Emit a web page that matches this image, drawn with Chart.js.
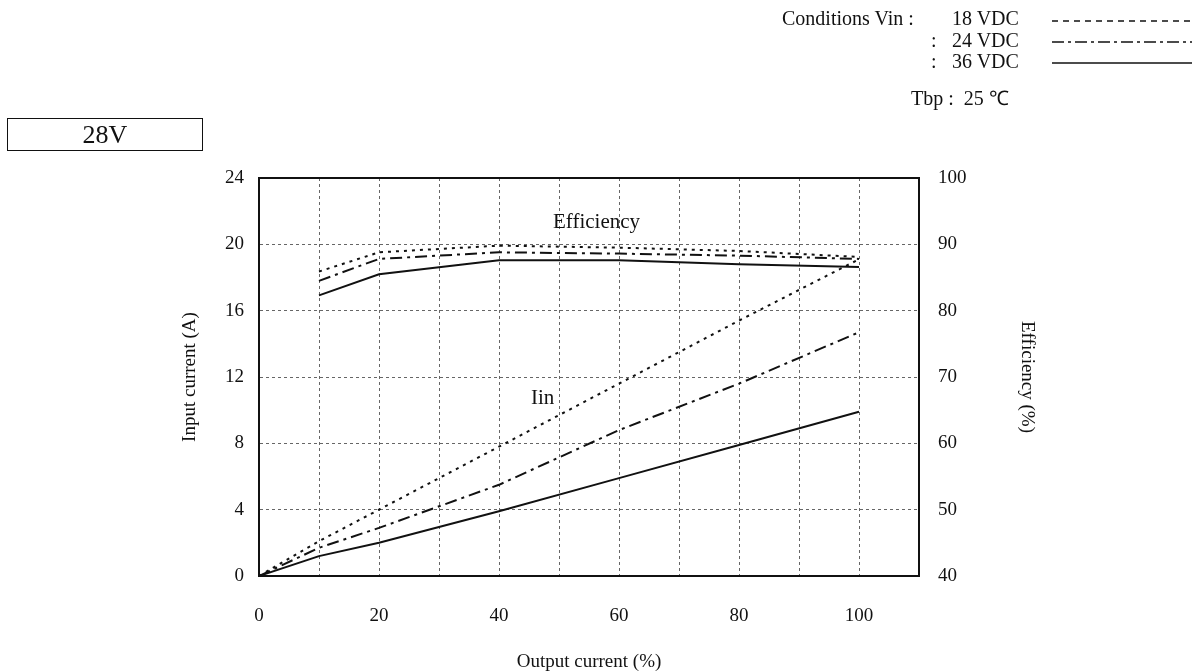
<!DOCTYPE html>
<html>
<head>
<meta charset="utf-8">
<script src="https://cdn.jsdelivr.net/npm/chart.js@4.4.0/dist/chart.umd.min.js"></script>
<style>
  body { margin: 0; background: #fff; }
  #wrap { position: relative; width: 1194px; height: 672px; font-family: "Liberation Serif", "Times New Roman", serif; color: #111; }
  #wrap canvas { position: absolute; left: 0; top: 0; }
  .t { position: absolute; font-size: 20px; line-height: 1; white-space: pre; }
  .box { position: absolute; left: 7px; top: 118px; width: 194px; height: 31px; border: 1.5px solid #111; font-size: 26px; line-height: 31px; text-align: center; }
  svg { position: absolute; left: 0; top: 0; }
</style>
</head>
<body>
<div id="wrap">
  <canvas id="effChart" width="1194" height="672"></canvas>
  <div class="t" style="left:782px;top:8px;">Conditions Vin :</div>
  <div class="t" style="left:952px;top:8px;">18 VDC</div>
  <div class="t" style="left:931px;top:30px;">:</div>
  <div class="t" style="left:952px;top:30px;">24 VDC</div>
  <div class="t" style="left:931px;top:51px;">:</div>
  <div class="t" style="left:952px;top:51px;">36 VDC</div>
  <div class="t" style="left:911px;top:88px;">Tbp :  25 ℃</div>
  <div class="box">28V</div>
  <div class="t" style="left:553px;top:211px;font-size:21px;">Efficiency</div>
  <div class="t" style="left:531px;top:387px;font-size:21px;">Iin</div>
  <svg width="1194" height="120">
    <line x1="1052" y1="21" x2="1192" y2="21" stroke="#111" stroke-width="1.5" stroke-dasharray="6,5"/>
    <line x1="1052" y1="42" x2="1192" y2="42" stroke="#111" stroke-width="1.5" stroke-dasharray="12,4,3,4"/>
    <line x1="1052" y1="63" x2="1192" y2="63" stroke="#111" stroke-width="1.5"/>
  </svg>
</div>
<script>
/* ===============================
   DATA
   =============================== */
const iinLoad = [0, 10, 20, 40, 60, 80, 100];
const iin18 = [0, 2.1, 4.0, 7.8, 11.6, 15.4, 19.1];
const iin24 = [0, 1.7, 2.9, 5.5, 8.8, 11.6, 14.7];
const iin36 = [0, 1.2, 2.0, 3.9, 5.9, 7.9, 9.9];

const effLoad = [10, 20, 40, 60, 80, 100];
const eff18 = [85.9, 88.8, 89.8, 89.5, 89.0, 88.1];
const eff24 = [84.5, 87.8, 88.8, 88.6, 88.3, 87.8];
const eff36 = [82.3, 85.5, 87.6, 87.6, 87.0, 86.6];

const xTicks = [0, 20, 40, 60, 80, 100];

const FONT = "'Liberation Serif', 'Times New Roman', serif";
const INK = "#111";

const DASH_18 = [3, 5];
const DASH_24 = [12, 5, 3, 5];

function toPoints(xs, ys) {
  return xs.map((x, i) => ({ x, y: ys[i] }));
}

function lineSet(label, xs, ys, axis, dash) {
  return {
    label,
    data: toPoints(xs, ys),
    yAxisID: axis,
    borderColor: INK,
    borderWidth: 2,
    borderDash: dash,
    pointRadius: 0,
    tension: 0,
    fill: false
  };
}

/* plot frame (top edge has no axis of its own) */
const framePlugin = {
  id: "frame",
  afterDraw(chart) {
    const { ctx, chartArea: a } = chart;
    ctx.save();
    ctx.strokeStyle = INK;
    ctx.lineWidth = 2;
    ctx.setLineDash([]);
    ctx.strokeRect(a.left, a.top, a.right - a.left, a.bottom - a.top);
    ctx.restore();
  }
};

new Chart(document.getElementById("effChart").getContext("2d"), {
  type: "line",
  data: {
    datasets: [
      lineSet("Iin 18 VDC", iinLoad, iin18, "y", DASH_18),
      lineSet("Iin 24 VDC", iinLoad, iin24, "y", DASH_24),
      lineSet("Iin 36 VDC", iinLoad, iin36, "y", []),
      lineSet("Eff 18 VDC", effLoad, eff18, "y1", DASH_18),
      lineSet("Eff 24 VDC", effLoad, eff24, "y1", DASH_24),
      lineSet("Eff 36 VDC", effLoad, eff36, "y1", [])
    ]
  },
  plugins: [framePlugin],
  options: {
    responsive: false,
    animation: false,
    layout: { padding: { top: 178, left: 0, right: 0, bottom: 0 } },
    plugins: { legend: { display: false }, tooltip: { enabled: false } },
    scales: {
      x: {
        type: "linear",
        min: 0,
        max: 110,
        afterFit: s => { s.height = 96; },
        ticks: {
          stepSize: 10,
          autoSkip: false,
          maxRotation: 0,
          padding: 29,
          color: INK,
          font: { family: FONT, size: 19 },
          callback: v => (xTicks.includes(v) ? v : "")
        },
        grid: { color: "#666", lineWidth: 1, drawTicks: false },
        border: { color: INK, width: 2, dash: [3, 3] },
        title: {
          display: true,
          text: "Output current (%)",
          color: INK,
          font: { family: FONT, size: 19, lineHeight: 1 },
          padding: { top: 0, bottom: 0 }
        }
      },
      y: {
        position: "left",
        min: 0,
        max: 24,
        afterFit: s => { s.width = 259; },
        ticks: {
          stepSize: 4,
          padding: 15,
          color: INK,
          font: { family: FONT, size: 19 }
        },
        grid: { color: "#666", lineWidth: 1, drawTicks: false },
        border: { color: INK, width: 2, dash: [3, 3] },
        title: {
          display: true,
          text: "Input current (A)",
          color: INK,
          font: { family: FONT, size: 19, lineHeight: 1.2 },
          padding: { top: 179, bottom: 0 }
        }
      },
      y1: {
        position: "right",
        min: 40,
        max: 100,
        afterFit: s => { s.width = 275; },
        ticks: {
          stepSize: 10,
          padding: 19,
          color: INK,
          font: { family: FONT, size: 19 }
        },
        grid: { drawOnChartArea: false, drawTicks: false },
        border: { color: INK, width: 2 },
        title: {
          display: true,
          text: "Efficiency (%)",
          color: INK,
          font: { family: FONT, size: 19, lineHeight: 1.2 },
          padding: { top: 156, bottom: 0 }
        }
      }
    }
  }
});
</script>
</body>
</html>
